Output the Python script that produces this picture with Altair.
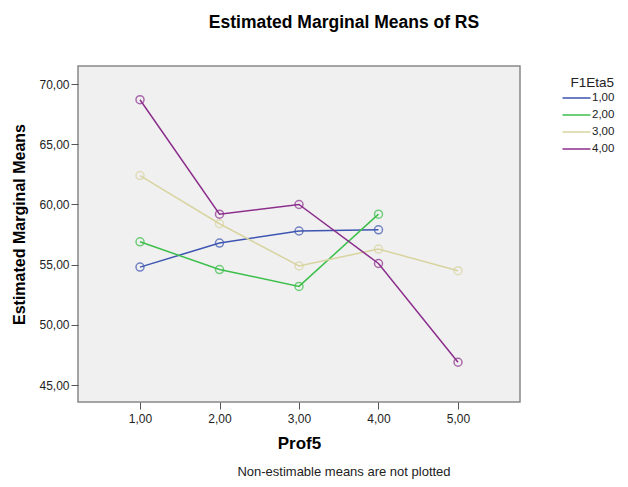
import altair as alt
import pandas as pd

prof = [1, 2, 3, 4, 5]
groups = ["1,00", "2,00", "3,00", "4,00"]
means_g1 = [54.8, 56.8, 57.8, 57.9, None]
means_g2 = [56.9, 54.6, 53.2, 59.2, None]
means_g3 = [62.4, 58.4, 54.9, 56.3, 54.5]
means_g4 = [68.7, 59.2, 60.0, 55.1, 46.9]
colors = ["#3D55B0", "#3CBF4A", "#D8D4A0", "#8C2E8C"]

rows = []
for g, vals in zip(groups, [means_g1, means_g2, means_g3, means_g4]):
    for p, v in zip(prof, vals):
        if v is not None:
            rows.append({"Prof5": p, "Mean": v, "F1Eta5": g})
df = pd.DataFrame(rows)

font = "Liberation Sans"
fmt = "replace(format(datum.value, '.2f'), '.', ',')"

x = alt.X("Prof5:Q", scale=alt.Scale(domain=[0.22, 5.78], nice=False, zero=False),
          axis=alt.Axis(values=prof, labelExpr=fmt, title="Prof5", grid=False, domain=False,
                        tickSize=7, tickColor="#555", labelFont=font, labelFontSize=12,
                        labelColor="#222", labelPadding=4, titleFont=font, titleFontSize=17,
                        titleFontWeight="bold", titlePadding=11, titleColor="#000"))
y = alt.Y("Mean:Q", scale=alt.Scale(domain=[43.6, 71.5], nice=False, zero=False),
          axis=alt.Axis(values=[45, 50, 55, 60, 65, 70], labelExpr=fmt,
                        title="Estimated Marginal Means", grid=False, domain=False,
                        tickSize=7, tickColor="#555", labelFont=font, labelFontSize=12,
                        labelColor="#222", labelPadding=2, titleFont=font, titleFontSize=16,
                        titleFontWeight="bold", titlePadding=11, titleColor="#000", titleY=158))
color = alt.Color("F1Eta5:N", scale=alt.Scale(domain=groups, range=colors),
                  legend=alt.Legend(title="F1Eta5", orient="none", legendX=490, legendY=10,
                                    symbolType="M-1.867,0L1.867,0", symbolSize=225,
                                    symbolStrokeWidth=1.5,
                                    labelFont=font, labelFontSize=11.5, labelColor="#222",
                                    titleFont=font, titleFontSize=13.5, titleFontWeight="normal",
                                    titleColor="#222", rowPadding=3, labelOffset=7,
                                    titlePadding=0, titleAlign="right", titleAnchor="end"))

lines = alt.Chart(df).mark_line(strokeWidth=1.5).encode(x=x, y=y, color=color, order="Prof5:Q")
points = alt.Chart(df).mark_point(shape="circle", filled=False, size=64, strokeWidth=1.5).encode(
    x=x, y=y, color=alt.Color("F1Eta5:N", scale=alt.Scale(domain=groups, range=colors), legend=None))
footer = alt.Chart(pd.DataFrame({"t": ["Non-estimable means are not plotted"]})).mark_text(
    font=font, fontSize=13, color="#222", baseline="middle", align="center").encode(
    text="t:N", x=alt.value(266), y=alt.value(406))

chart = alt.layer(lines, points, footer).properties(
    width=442, height=336, autosize="none",
    padding={"left": 70, "top": 58, "right": 100, "bottom": 77},
    title=alt.TitleParams("Estimated Marginal Means of RS", font=font, fontSize=17.5,
                          fontWeight="bold", anchor="middle", dx=45, offset=35, color="#000"),
).configure_view(fill="#F0F0F0", stroke="#888", strokeWidth=1.5)

chart.save("out.html", embed_options={"renderer": "svg", "actions": False})
